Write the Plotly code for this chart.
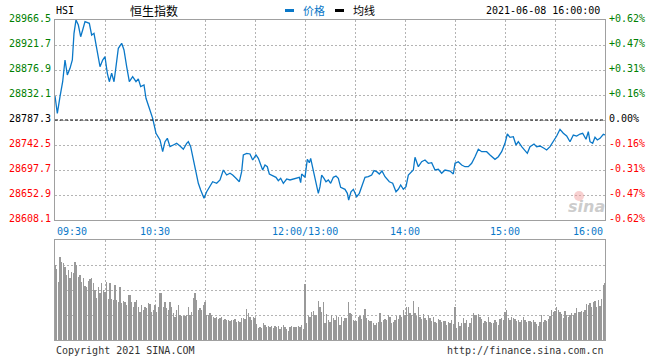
import plotly.graph_objects as go

# ---------------- data ----------------
prev_close = 28787.3
y_ticks = [28966.5, 28921.7, 28876.9, 28832.1, 28787.3, 28742.5, 28697.7, 28652.9, 28608.1]
pct_ticks = ["+0.62%", "+0.47%", "+0.31%", "+0.16%", "0.00%", "-0.16%", "-0.31%", "-0.47%", "-0.62%"]
x_tick_minutes = [0, 60, 150, 210, 270, 330]
x_tick_labels = ["09:30", "10:30", "12:00/13:00", "14:00", "15:00", "16:00"]

# trading minutes since 09:30 (lunch break removed) and index level
trade_minute = [0, 1.4, 3, 4.6, 6, 7.4, 9, 10.4, 11.4, 12.6,
                14, 15.4, 16.6, 18, 20.6, 22, 23.4, 25, 27, 28.6,
                30, 31.4, 32.6, 34, 35.4, 36.6, 38, 40, 41.4, 43,
                44.6, 46.6, 48.6, 50, 51.4, 53.4, 54.6, 56.6, 58.6, 60.6,
                63, 64.6, 66, 67.4, 69, 71, 73, 75, 77, 79,
                80, 81.4, 83, 84.4, 86, 87.4, 89.4, 91, 93, 94.6,
                97, 99, 101, 103, 105, 106.6, 108.6, 110.6, 112, 113,
                115, 117, 118.6, 120.6, 122, 123, 124.6, 126, 127.4, 128.6,
                131, 132.6, 134, 135.4, 137, 139, 141, 143, 145, 146.6,
                147.4, 148, 150, 150.6, 151.4, 152.6, 153.4, 155, 156.6, 158,
                159, 160, 161.4, 162.6, 164, 165.4, 167, 168.6, 170, 171.4,
                174, 175.4, 176.2, 177.6, 179, 180, 181, 182.6, 184.6, 186,
                188, 190, 191.4, 193, 194.6, 196.2, 198, 200.6, 202.6, 204.6,
                206, 207.4, 209, 210.6, 212, 214, 215, 216, 218, 220,
                222, 224, 226, 228, 230, 232, 234, 237, 239, 240,
                242, 244, 246, 248, 250, 252, 254, 256, 259, 261,
                264, 266, 268, 270, 271.4, 273, 275, 276.6, 278, 280,
                282, 283.4, 285, 287.4, 289, 291, 293.4, 295, 297, 299,
                301, 303, 305, 307, 309, 311, 313, 315, 316.6, 318.6,
                320, 321, 322.6, 324, 325.4, 327, 329, 330]
price = [28830.3, 28799.3, 28829.1, 28855.9, 28894.8, 28867.9, 28879.9, 28894.8, 28942.7, 28966.5,
         28957.5, 28936.6, 28948.6, 28963.5, 28960.6, 28939.6, 28942.7, 28918.7, 28882.8, 28894.8,
         28900.7, 28871.0, 28855.9, 28871.0, 28855.9, 28882.8, 28915.8, 28924.7, 28912.7, 28882.8,
         28855.9, 28864.9, 28855.9, 28861.0, 28847.0, 28850.0, 28826.2, 28808.3, 28790.3, 28763.5,
         28751.5, 28730.5, 28748.4, 28754.5, 28739.5, 28742.5, 28745.5, 28740.7, 28734.8, 28745.5,
         28748.4, 28739.5, 28715.6, 28691.8, 28673.9, 28661.9, 28647.0, 28658.8, 28667.8, 28676.7,
         28673.9, 28679.8, 28697.7, 28688.7, 28691.8, 28688.7, 28682.8, 28676.7, 28694.7, 28724.6,
         28727.6, 28726.4, 28715.6, 28724.6, 28718.6, 28709.7, 28697.7, 28706.7, 28703.6, 28690.5,
         28686.9, 28684.6, 28678.5, 28682.8, 28673.9, 28681.6, 28679.8, 28681.6, 28682.8, 28684.6,
         28675.0, 28690.5, 28684.6, 28703.6, 28716.9, 28710.8, 28718.6, 28696.5, 28673.9, 28655.9,
         28667.8, 28688.7, 28682.8, 28676.7, 28679.8, 28673.9, 28684.6, 28686.9, 28682.8, 28666.7,
         28663.1, 28655.9, 28643.9, 28658.8, 28663.1, 28655.9, 28649.9, 28655.9, 28670.8, 28684.6,
         28685.7, 28688.7, 28696.5, 28694.7, 28690.5, 28695.9, 28685.7, 28676.7, 28673.9, 28658.8,
         28663.1, 28670.8, 28663.1, 28667.8, 28688.7, 28694.7, 28697.7, 28720.5, 28703.6, 28712.6,
         28715.6, 28709.7, 28710.8, 28697.7, 28699.0, 28691.8, 28697.7, 28695.9, 28690.5, 28709.7,
         28712.6, 28706.7, 28703.6, 28703.6, 28709.7, 28721.5, 28734.8, 28730.5, 28730.5, 28724.6,
         28716.9, 28721.5, 28730.5, 28745.5, 28762.2, 28756.3, 28757.4, 28742.5, 28748.4, 28739.5,
         28733.5, 28727.6, 28739.5, 28744.3, 28739.5, 28740.7, 28736.6, 28733.5, 28739.5, 28748.4,
         28758.6, 28770.6, 28763.5, 28758.6, 28748.4, 28760.4, 28758.6, 28762.2, 28763.5, 28752.7,
         28766.3, 28748.4, 28745.5, 28756.3, 28751.5, 28754.5, 28761.7, 28760.4]

# per-minute volume (relative units, 0-100 scale of the panel)
volume_morning = [75, 71, 58, 83, 78, 77, 73, 65, 70, 62,
                  68, 67, 78, 75, 63, 65, 58, 62, 54, 53,
                  59, 61, 62, 57, 50, 42, 53, 47, 57, 50,
                  48, 58, 41, 57, 41, 40, 55, 40, 38, 53,
                  37, 39, 38, 35, 45, 45, 38, 33, 38, 40,
                  33, 28, 35, 30, 33, 32, 37, 36, 28, 30,
                  35, 28, 33, 47, 47, 33, 38, 32, 30, 38,
                  33, 27, 23, 30, 35, 25, 24, 24, 24, 25,
                  33, 25, 28, 42, 47, 40, 30, 32, 30, 35,
                  38, 25, 25, 27, 25, 23, 22, 23, 21, 22,
                  23, 20, 21, 20, 20, 19, 20, 20, 21, 18,
                  19, 18, 22, 22, 21, 31, 27, 23, 20, 23,
                  22, 16, 12, 13, 12, 17, 15, 13, 14, 13,
                  14, 12, 14, 13, 14, 11, 13, 15, 13, 11,
                  9, 13, 14, 13, 13, 13, 14, 13, 15, 11]
volume_afternoon = [56,
                    17, 24, 23, 28, 29, 25, 25, 39, 33, 28, 38, 17, 26, 20,
                    18, 25, 22, 20, 24, 23, 15, 23, 19, 22,
                    22, 38, 27, 26, 20, 19, 19, 23, 24, 21,
                    25, 31, 22, 20, 19, 19, 17, 15, 17, 18,
                    27, 18, 20, 21, 20, 25, 23, 17, 18, 20,
                    24, 21, 25, 23, 30, 25, 33, 33, 27, 25,
                    39, 27, 24, 33, 23, 21, 26, 22, 20, 25,
                    22, 19, 23, 18, 17, 21, 20, 18, 19, 19,
                    15, 18, 17, 20, 16, 33, 12, 18, 14, 17,
                    22, 17, 20, 13, 17, 22, 27, 25, 25, 26,
                    23, 21, 17, 19, 18, 23, 18, 17, 17, 20,
                    18, 15, 21, 22, 20, 28, 30, 22, 20, 23,
                    22, 21, 19, 20, 18, 20, 23, 20, 18, 19,
                    19, 18, 20, 18, 16, 14, 18, 25, 18, 20,
                    19, 21, 24, 30, 28, 29, 33, 30, 28, 26,
                    22, 29, 25, 23, 25, 27, 25, 27, 32, 28,
                    28, 29, 28, 30, 36, 35, 37, 33, 38, 39,
                    33, 40, 34, 41, 55, 57]
volume = volume_morning + volume_afternoon
volume_minute = list(range(len(volume)))

# ---------------- style ----------------
W, H = 660, 360
ML, MR, MT, MB = 55, 55, 20, 20
PLOT_H = H - MT - MB
BLUE = "#0a78c8"
GRID = "#b4b4b4"
FRAME = "#a0a0a0"
MONO = "DejaVu Sans Mono"
CJK = "Noto Sans CJK SC"


def px(x):
    return (x - ML) / (W - ML - MR)


def py(y):
    return (H - MB - y) / PLOT_H


fig = go.Figure()
fig.add_trace(go.Scatter(x=trade_minute, y=price, mode="lines",
                         line=dict(color=BLUE, width=1.3), xaxis="x", yaxis="y",
                         hoverinfo="skip"))
fig.add_trace(go.Bar(x=volume_minute, y=volume, width=0.62, marker=dict(color="#999999", line=dict(width=0)),
                     xaxis="x2", yaxis="y2", hoverinfo="skip"))

axis_common = dict(showline=True, mirror=True, linecolor=FRAME, linewidth=1,
                   showgrid=True, gridcolor=GRID, griddash="2px,2px", gridwidth=1,
                   zeroline=False, showticklabels=False, ticks="", fixedrange=True)

fig.update_layout(
    width=W, height=H, margin=dict(l=ML, r=MR, t=MT, b=MB),
    paper_bgcolor="white", plot_bgcolor="white", showlegend=False,
    xaxis=dict(range=[0, 330], tickvals=list(range(30, 330, 30)), domain=[0, 1],
               anchor="y", **axis_common),
    yaxis=dict(range=[y_ticks[-1], y_ticks[0]], tickvals=y_ticks[1:-1],
               domain=[py(220), py(20)], anchor="x", **axis_common),
    xaxis2=dict(range=[0, 330], tickvals=list(range(30, 330, 30)), domain=[0, 1],
                anchor="y2", **axis_common),
    yaxis2=dict(range=[0, 100], tickvals=[25, 50, 75], domain=[py(340), py(240)],
                anchor="x2", **axis_common),
    bargap=0,
)

# previous close dashed line
fig.add_shape(type="line", xref="x", yref="y", x0=0, x1=330, y0=prev_close, y1=prev_close,
              line=dict(color="black", width=1, dash="3px,2px"))

ann = []
# left price labels and right percentage labels
for v, p in zip(y_ticks, pct_ticks):
    if v > prev_close + 0.01:
        col = "#008000"
    elif v < prev_close - 0.01:
        col = "#ff0000"
    else:
        col = "#000000"
    ann.append(dict(x=px(53), y=v, xref="paper", yref="y", text=f"{v:.1f}", showarrow=False,
                    xanchor="right", yanchor="middle", yshift=2,
                    font=dict(family=MONO, size=10, color=col)))
    ann.append(dict(x=px(607), y=v, xref="paper", yref="y", text=p, showarrow=False,
                    xanchor="left", yanchor="middle", yshift=2,
                    font=dict(family=MONO, size=10, color=col)))

# time labels
for m, lab in zip(x_tick_minutes, x_tick_labels):
    anchor = "center"
    if m == x_tick_minutes[0]:
        anchor = "left"
    elif m == x_tick_minutes[-1]:
        anchor = "right"
    ann.append(dict(x=m, y=py(231), xref="x", yref="paper", text=lab, showarrow=False,
                    xanchor=anchor, yanchor="middle",
                    font=dict(family=MONO, size=10, color=BLUE)))

# header
ann.append(dict(x=px(54), y=py(10), xref="paper", yref="paper", text="HSI", showarrow=False,
                xanchor="left", yanchor="middle", font=dict(family=MONO, size=10, color="black")))
ann.append(dict(x=px(154), y=py(10), xref="paper", yref="paper", text="恒生指数", showarrow=False,
                xanchor="center", yanchor="middle", font=dict(family=CJK, size=12, color="black")))
ann.append(dict(x=px(301), y=py(10), xref="paper", yref="paper", text="价格", showarrow=False,
                xanchor="left", yanchor="middle", font=dict(family=CJK, size=11, color=BLUE)))
ann.append(dict(x=px(351), y=py(10), xref="paper", yref="paper", text="均线", showarrow=False,
                xanchor="left", yanchor="middle", font=dict(family=CJK, size=11, color="black")))
ann.append(dict(x=px(602), y=py(10), xref="paper", yref="paper", text="2021-06-08 16:00:00",
                showarrow=False, xanchor="right", yanchor="middle",
                font=dict(family=MONO, size=10, color="black")))
fig.add_shape(type="rect", xref="paper", yref="paper", x0=px(285), x1=px(294), y0=py(12), y1=py(9),
              fillcolor=BLUE, line=dict(width=0))
fig.add_shape(type="rect", xref="paper", yref="paper", x0=px(335), x1=px(344), y0=py(12), y1=py(9),
              fillcolor="black", line=dict(width=0))

# footer
ann.append(dict(x=px(54), y=py(350), xref="paper", yref="paper", text="Copyright 2021 SINA.COM",
                showarrow=False, xanchor="left", yanchor="middle",
                font=dict(family=MONO, size=10, color="#333333")))
ann.append(dict(x=px(606), y=py(350), xref="paper", yref="paper", text="http://finance.sina.com.cn",
                showarrow=False, xanchor="right", yanchor="middle",
                font=dict(family=MONO, size=10, color="#333333")))

# watermark
fig.add_shape(type="circle", xref="paper", yref="paper", x0=px(574), x1=px(584), y0=py(201), y1=py(191),
              fillcolor="rgba(240,150,150,0.45)", line=dict(width=0))
ann.append(dict(x=px(586), y=py(206), xref="paper", yref="paper", text="<b><i>sina</i></b>",
                showarrow=False, xanchor="center", yanchor="middle",
                font=dict(family="DejaVu Sans", size=16, color="rgba(170,170,170,0.6)")))

fig.update_layout(annotations=ann)
fig.write_html("out.html", config={"displayModeBar": False, "staticPlot": True},
               post_script="document.body.style.margin='0';document.body.style.overflow='hidden';")
